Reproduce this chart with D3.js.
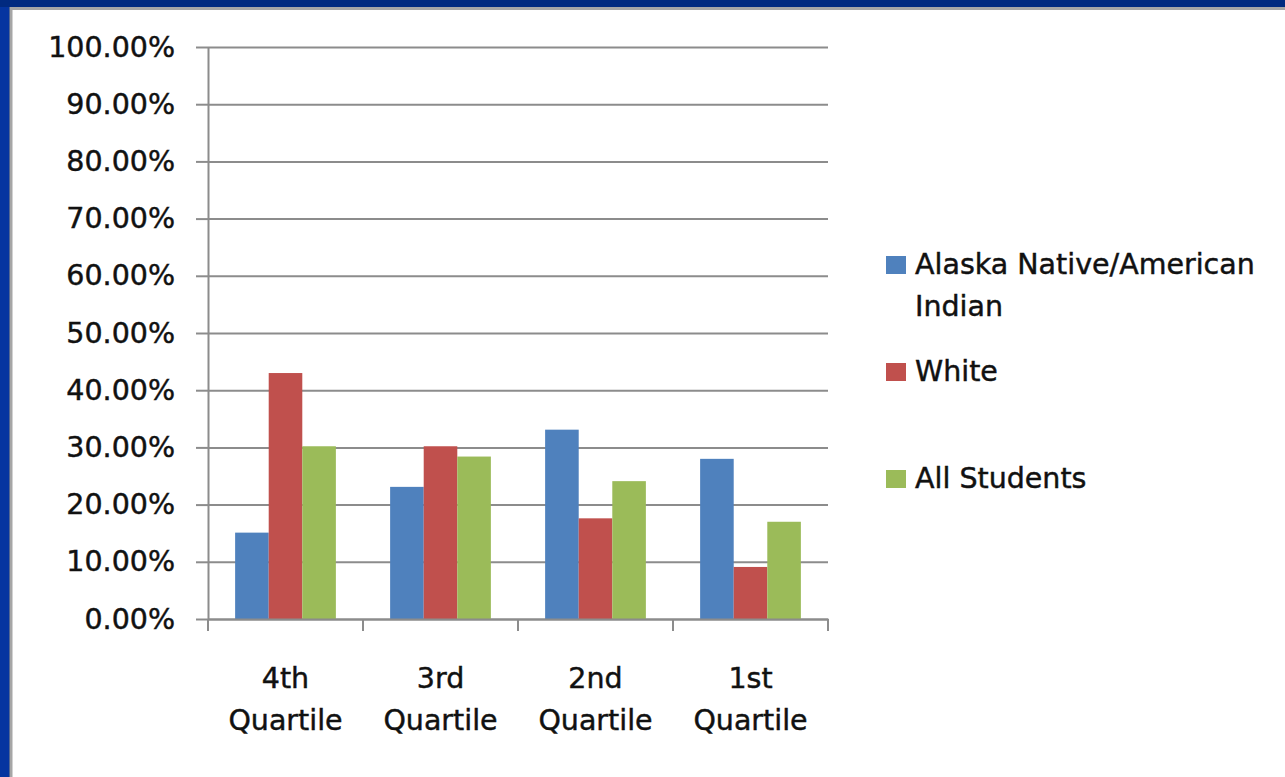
<!DOCTYPE html>
<html>
<head>
<meta charset="utf-8">
<script src="https://cdn.jsdelivr.net/npm/d3@7"></script>
<style>
  html, body { margin: 0; padding: 0; background: #012a80; }
  svg { display: block; }
  text { font-family: "DejaVu Sans", Verdana, sans-serif; fill: #111; stroke: #111; stroke-width: 0.45px; }
</style>
</head>
<body>
<svg id="chart" width="1285" height="777"></svg>
<script>
const categories = ["4th Quartile", "3rd Quartile", "2nd Quartile", "1st Quartile"];
const seriesNames = ["Alaska Native/American Indian", "White", "All Students"];
const alaskaNative = [0.151, 0.231, 0.331, 0.280];
const white = [0.430, 0.302, 0.176, 0.091];
const allStudents = [0.302, 0.284, 0.241, 0.170];
const seriesValues = [alaskaNative, white, allStudents];
const yTicks = [0, 0.1, 0.2, 0.3, 0.4, 0.5, 0.6, 0.7, 0.8, 0.9, 1.0];
const colors = ["#4f81bd", "#c0504d", "#9bbb59"];

(function () {
const svg = d3.select("#chart");
const W = 1285, H = 777;
const FS = "28.5px";

// background and white panel
svg.append("rect").attr("x", 0).attr("y", 0).attr("width", W).attr("height", H).attr("fill", "#012a80");
svg.append("rect").attr("x", 0).attr("y", 7).attr("width", 9).attr("height", H).attr("fill", "#0535a0");
svg.append("rect").attr("x", 11).attr("y", 8.5).attr("width", W + 20).attr("height", H + 20)
  .attr("fill", "#ffffff").attr("stroke", "#a6a6a6").attr("stroke-width", 3);

const pLeft = 208, pRight = 828, pTop = 47, pBottom = 619;
const y = d3.scaleLinear().domain([0, 1]).range([pBottom, pTop]);
const x0 = d3.scaleBand().domain(categories).range([pLeft, pRight]).padding(0);
const bw = x0.bandwidth();
const gap = bw * 0.175;
const x1 = d3.scaleBand().domain(d3.range(seriesNames.length)).range([gap, bw - gap]).padding(0);

const gridColor = "#8c8c8c";

// gridlines
const grid = svg.append("g").attr("transform", `translate(${pLeft},0)`)
  .call(d3.axisLeft(y).tickValues(yTicks).tickSize(-(pRight - pLeft)).tickFormat(""));
grid.select(".domain").remove();
grid.selectAll("line").attr("stroke", gridColor).attr("stroke-width", 2);

// y axis
const yAxis = svg.append("g").attr("transform", `translate(${pLeft},0)`)
  .call(d3.axisLeft(y).tickValues(yTicks).tickSizeInner(12).tickSizeOuter(0).tickPadding(21).tickFormat(d3.format(".2%")));
yAxis.select(".domain").attr("stroke", gridColor).attr("stroke-width", 2);
yAxis.selectAll("line").attr("stroke", gridColor).attr("stroke-width", 2);
yAxis.selectAll("text").attr("font-family", null).attr("font-size", null)
  .style("font-family", '"DejaVu Sans", Verdana, sans-serif').style("font-size", FS).attr("fill", "#111");

// bars
const groups = svg.append("g").selectAll("g").data(categories).join("g")
  .attr("transform", d => `translate(${x0(d)},0)`);
groups.selectAll("rect").data((c, ci) => seriesValues.map((vals, si) => ({ si, v: vals[ci] })))
  .join("rect")
  .attr("x", d => x1(d.si))
  .attr("y", d => y(d.v))
  .attr("width", x1.bandwidth())
  .attr("height", d => y(0) - y(d.v))
  .attr("fill", d => colors[d.si]);

// x axis
const xAxis = svg.append("g").attr("transform", `translate(0,${pBottom})`)
  .call(d3.axisBottom(x0).tickSize(0).tickFormat(""));
xAxis.select(".domain").attr("stroke", gridColor).attr("stroke-width", 2);
const boundaries = categories.map(c => x0(c)).concat([x0(categories[categories.length - 1]) + bw]);
xAxis.selectAll(".bnd").data(boundaries).join("line").attr("class", "bnd")
  .attr("x1", d => d).attr("x2", d => d).attr("y1", 0).attr("y2", 12)
  .attr("stroke", gridColor).attr("stroke-width", 2);
xAxis.selectAll(".tick text").remove();
xAxis.selectAll(".tick").each(function (d) {
  const parts = d.split(" ");
  const t = d3.select(this).append("text").attr("text-anchor", "middle")
    .style("font-size", FS).attr("fill", "#111");
  t.append("tspan").attr("x", 0).attr("y", 69).text(parts[0]);
  t.append("tspan").attr("x", 0).attr("y", 111).text(parts[1]);
});

// legend
const legend = svg.append("g");
const legendItems = [
  { lines: ["Alaska Native/American", "Indian"], sq: 256 },
  { lines: ["White"], sq: 363 },
  { lines: ["All Students"], sq: 470 }
];
legendItems.forEach((item, i) => {
  legend.append("rect").attr("x", 886).attr("y", item.sq).attr("width", 20).attr("height", 18).attr("fill", colors[i]);
  const t = legend.append("text").style("font-size", FS).attr("fill", "#111");
  item.lines.forEach((ln, li) => {
    t.append("tspan").attr("x", 915).attr("y", item.sq + 18 + li * 42).text(ln);
  });
});
})();
</script>
</body>
</html>
